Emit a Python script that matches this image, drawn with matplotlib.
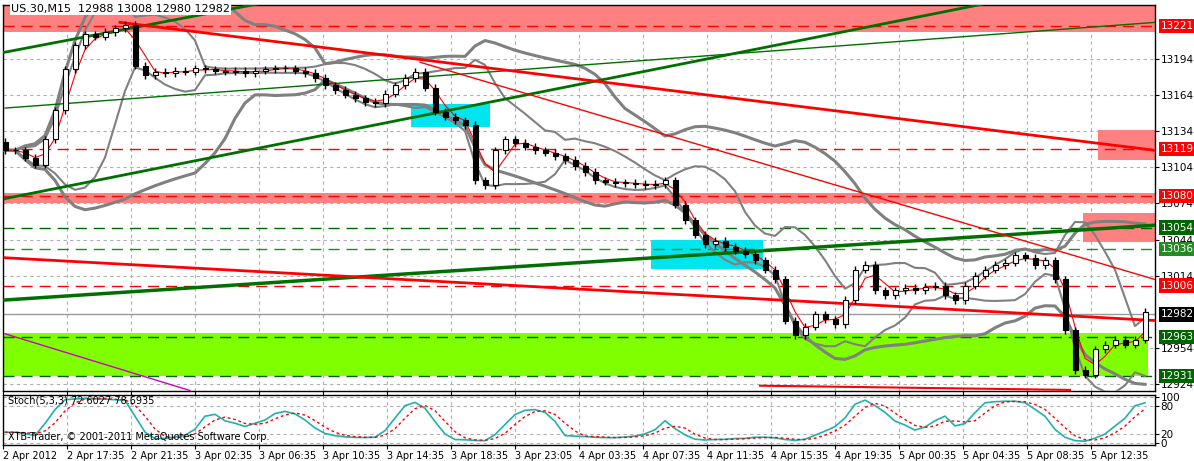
import numpy as np
import matplotlib.pyplot as plt
from matplotlib.patches import Rectangle

# closes, one bar per 10 px
closes = [13118, 13118, 13112, 13106, 13127, 13151, 13185, 13205, 13214, 13212, 13216, 13219, 13222,
          13188, 13180, 13183, 13182, 13184, 13183, 13186, 13185, 13184, 13183, 13184, 13182, 13184,
          13185, 13186, 13186, 13184, 13182, 13178, 13172, 13168, 13164, 13161, 13158, 13157, 13165,
          13172, 13178, 13183, 13170, 13150, 13146, 13143, 13139, 13093, 13089, 13118, 13127, 13124,
          13121, 13118, 13116, 13113, 13110, 13105, 13100, 13093, 13092, 13091, 13091, 13090, 13089,
          13090, 13093, 13073, 13060, 13048, 13040, 13043, 13038, 13035, 13032, 13027, 13019, 13011,
          12977, 12965, 12972, 12982, 12978, 12974, 12994, 13019, 13023, 13002, 12998, 13002, 13004,
          13002, 13005, 13006, 12998, 12994, 13006, 13014, 13019, 13023, 13025, 13031, 13029, 13023,
          13027, 13011, 12969, 12936, 12932, 12953, 12957, 12961, 12957, 12961, 12984]
first_open = 13125
tick_labels = ["2 Apr 2012", "2 Apr 17:35", "2 Apr 21:35", "3 Apr 02:35", "3 Apr 06:35", "3 Apr 10:35",
               "3 Apr 14:35", "3 Apr 18:35", "3 Apr 23:05", "4 Apr 03:35", "4 Apr 07:35", "4 Apr 11:35",
               "4 Apr 15:35", "4 Apr 19:35", "5 Apr 00:35", "5 Apr 04:35", "5 Apr 08:35", "5 Apr 12:35"]
price_ticks = [13194, 13164, 13134, 13104, 13074, 13044, 13014, 12954, 12924]
# (price, colour) labelled levels
levels = [(13221, '#ff0000'), (13119, '#ff0000'), (13080, '#ff0000'), (13006, '#ff0000'),
          (13054, '#006400'), (13036, '#228b22'), (12963, '#006400'), (12931, '#006400'),
          (12982, '#000000')]
# zones: x0, x1, p_low, p_high, colour
zones = [(0, 1152, 13216, 13242, '#ff8080'), (0, 1152, 13074, 13083, '#ff8080'),
         (1095, 1152, 13110, 13135, '#ff8080'), (1080, 1152, 13042, 13066, '#ff8080'),
         (0, 1145, 12931, 12967, '#80ff00'), (408, 487, 13137, 13156, '#00e5ee'),
         (648, 760, 13020, 13044, '#00e5ee')]
# trend lines: x0, p0, x1, p1, colour, width
trends = [(2, 13078, 997, 13242, '#007000', 2), (2, 13153, 1152, 13224, '#007000', 1),
          (0, 13199, 272, 13242, '#007000', 2), (2, 12994, 1152, 13056, '#007000', 2.5),
          (117, 13224, 1152, 13118, '#ff0000', 2), (417, 13191, 1152, 13011, '#ff0000', 1),
          (2, 13029, 1152, 12977, '#ff0000', 2), (757, 12923, 1067, 12919.5, '#ff0000', 1.5),
          (2, 12966, 187, 12919, '#cc00cc', 1)]

c = np.array(closes, float)
o = np.r_[first_open, c[:-1]]
xs = 2 + 10 * np.arange(len(c))
hi = np.maximum(o, c) + 3
lo = np.minimum(o, c) - 3

def sma(a, n):
    return np.array([a[max(0, i - n + 1):i + 1].mean() for i in range(len(a))])

def sstd(a, n):
    return np.array([a[max(0, i - n + 1):i + 1].std() for i in range(len(a))])

fig = plt.figure(figsize=(11.94, 4.61), dpi=100)
W, H = 1194, 461
ax = fig.add_axes([3 / W, 1 - 391 / H, 1152 / W, 386 / H])
ax2 = fig.add_axes([3 / W, 1 - 445 / H, 1152 / W, 50 / H])

for x0, x1, a, b, col in zones:
    ax.add_patch(Rectangle((x0, a), x1 - x0, b - a, color=col, lw=0, zorder=1))

for p, col in levels:
    ls = '-' if col == '#000000' else (0, (8, 5))
    ax.axhline(p, color=col if col != '#000000' else '#999999', ls=ls, lw=1, zorder=2)

# bollinger bands and moving average
for n, k_, lw in [(8, 1.6, 1.5), (20, 2.0, 2.2)]:
    m, s = sma(c, n), sstd(c, n)
    ax.plot(xs, m + k_ * s, color='#808080', lw=lw, zorder=3)
    ax.plot(xs, m - k_ * s, color='#808080', lw=lw, zorder=3)
ax.plot(xs, sma(c, 3), color='#ff0000', lw=0.8, zorder=4)

for x0, p0, x1, p1, col, lw in trends:
    ax.plot([x0, x1], [p0, p1], color=col, lw=lw, zorder=5)

ax.vlines(xs, lo, hi, color='black', lw=1, zorder=6)
for x, a, b in zip(xs, o, c):
    ax.add_patch(Rectangle((x - 2.5, min(a, b)), 5, max(abs(b - a), 0.6),
                           facecolor='white' if b >= a else 'black', edgecolor='black', lw=0.8, zorder=7))

ax.set_xlim(0, 1152)
ax.set_ylim(12918.6, 13238.4)
tx = [64 * k for k in range(len(tick_labels))]
for a_ in (ax, ax2):
    a_.set_xticks(tx)
    a_.grid(True, color='#b0b0b0', ls=(0, (3, 3)), lw=0.8)
    a_.set_axisbelow(True)
    a_.yaxis.tick_right()
    a_.tick_params(labelsize=7.5, length=3, pad=1, direction='out')
    for sp in a_.spines.values():
        sp.set_linewidth(1)
ax.set_xticklabels([])
ax.set_yticks(price_ticks)
ax.set_yticklabels([str(p) for p in price_ticks])
ax2.set_xticklabels(tick_labels, ha='left', fontsize=7)
for p, col in levels:
    ax.text(1158, p, str(p), color='white', fontsize=7.5, va='center', ha='left', clip_on=False,
            bbox=dict(boxstyle='square,pad=0.2', fc=col, ec='none'), zorder=10)
ax.text(8, 13233, "US.30,M15  12988 13008 12980 12982", fontsize=8,
        bbox=dict(fc='white', ec='none', pad=1), zorder=10)

# stochastic 5,3,3
ll = np.array([lo[max(0, i - 4):i + 1].min() for i in range(len(c))])
hh = np.array([hi[max(0, i - 4):i + 1].max() for i in range(len(c))])
num = np.array([(c - ll)[max(0, i - 2):i + 1].sum() for i in range(len(c))])
den = np.array([(hh - ll)[max(0, i - 2):i + 1].sum() for i in range(len(c))])
k = 100 * num / den
d = sma(k, 3)
ax2.plot(xs, k, color='#20b2aa', lw=1.2)
ax2.plot(xs, d, color='#ff0000', lw=1, ls=(0, (2, 2)))
ax2.set_xlim(0, 1152)
ax2.set_ylim(-5, 105)
ax2.set_yticks([0, 20, 80, 100])
ax2.set_yticklabels(['0', '20', '80', '100'])
ax2.text(5, 86, "Stoch(5,3,3) 72.6027 78.6935", fontsize=7)
ax2.text(5, 5, "XTB-Trader, \u00a9 2001-2011 MetaQuotes Software Corp.", fontsize=7)

fig.savefig('out.png', dpi=100)
